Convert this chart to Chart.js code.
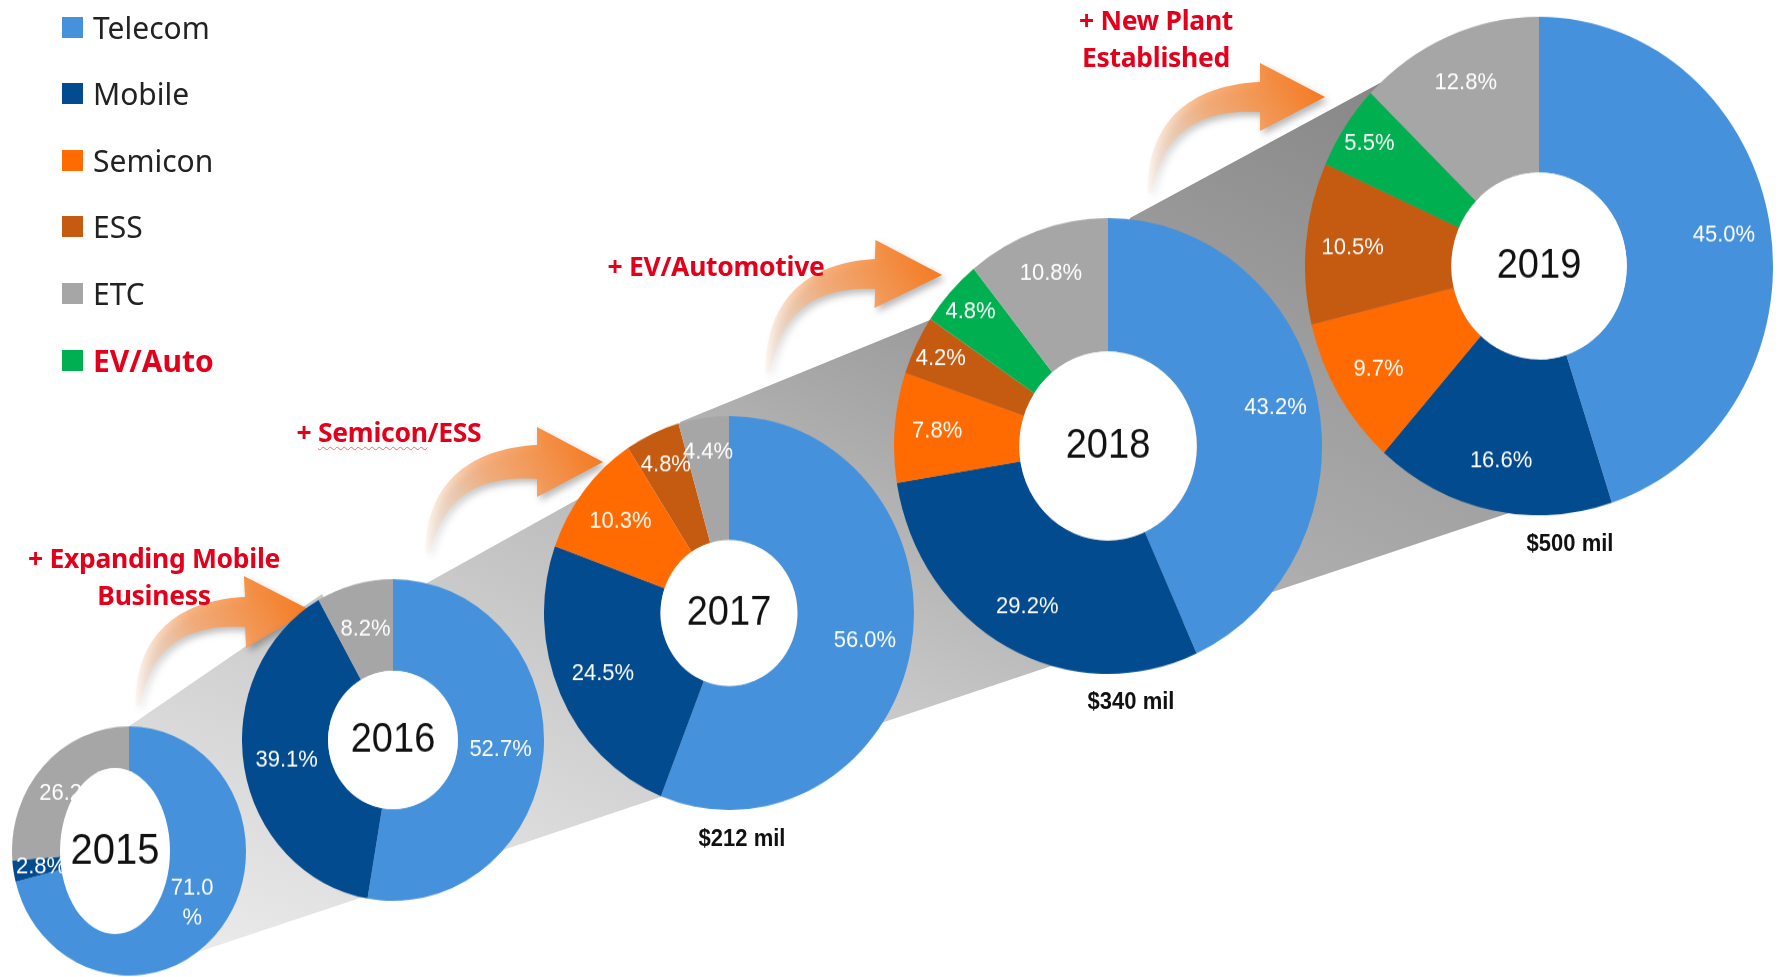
<!DOCTYPE html>
<html>
<head>
<meta charset="utf-8">
<script src="https://cdn.jsdelivr.net/npm/chart.js@4.4.1/dist/chart.umd.min.js"></script>
<style>
html, body { margin: 0; padding: 0; background: #fff; }
#stage { position: relative; width: 1787px; height: 977px; overflow: hidden; font-family: "Liberation Sans", Arial, sans-serif; }
#bg { position: absolute; left: 0; top: 0; }
.ring { position: absolute; transform-origin: 50% 50%; }
.note { position: absolute; transform: translate(-50%, -50%); color: #e3001b; font: 700 26.5px "Noto Sans", sans-serif; text-align: center; line-height: 37px; white-space: nowrap; letter-spacing: -0.3px; }
.note .sq { text-decoration: underline wavy #f06a7a; text-decoration-thickness: 1px; text-underline-offset: 4px; }
.amount { position: absolute; transform: translate(-50%, -50%) scaleY(1.065); font: 700 22px "Liberation Sans", Arial, sans-serif; color: #111; white-space: nowrap; }
.leg { position: absolute; left: 62px; height: 30px; display: flex; align-items: center; font: 30px "Noto Sans", sans-serif; color: #222; white-space: nowrap; }
.leg i { display: inline-block; width: 21px; height: 21px; margin-right: 10px; }
.leg.hot { color: #e3001b; font-weight: 700; }
</style>
</head>
<body>
<div id="stage"><canvas id="bg" width="1787" height="977"></canvas></div>
<script>
// slice order runs clockwise from 12 o'clock
const categories = ['Telecom', 'Mobile', 'Semicon', 'ESS', 'EV/Auto', 'ETC'];
const colors = ['#4591db', '#034b8f', '#ff6b00', '#c55a11', '#00b050', '#a6a6a6'];
const legendOrder = ['Telecom', 'Mobile', 'Semicon', 'ESS', 'ETC', 'EV/Auto'];
const years = ['2015', '2016', '2017', '2018', '2019'];
const share2015 = [71.0, 2.8, 0, 0, 0, 26.2];
const share2016 = [52.7, 39.1, 0, 0, 0, 8.2];
const share2017 = [56.0, 24.5, 10.3, 4.8, 0, 4.4];
const share2018 = [43.2, 29.2, 7.8, 4.2, 4.8, 10.8];
const share2019 = [45.0, 16.6, 9.7, 10.5, 5.5, 12.8];
const revenue = ['', '', '$212 mil', '$340 mil', '$500 mil'];
const milestones = ['+ Expanding Mobile\nBusiness', '+ Semicon/ESS', '+ EV/Automotive', '+ New Plant\nEstablished'];

const shares = [share2015, share2016, share2017, share2018, share2019];

// layout of the picture
const stretch = 1.065;
const rings = [
    { cx: 129, cy: 851, r: 117, cut: '34%', lf: 0.52, hole: { dx: -14, rx: 55, ry: 78 }, yearSize: 40, wrap: [0] },
    { cx: 393, cy: 740, r: 151, cut: '43%', lf: 0.5, yearSize: 38 },
    { cx: 729, cy: 613, r: 185, cut: '37%', lf: 0.6, yearSize: 38 },
    { cx: 1108, cy: 446, r: 214, cut: '41.5%', lf: 0.66, yearSize: 38 },
    { cx: 1539, cy: 266, r: 234, cut: '37.5%', lf: 0.68, yearSize: 38 }
];
const amountPos = [null, null, [742, 839], [1131, 702], [1570, 544]];
const notePos = [[154, 577], [389, 432], [716, 266], [1156, 39]];
const bands = [
    { pts: [[128, 727], [322, 594], [393, 740], [393, 887], [180, 958], [129, 851]], top: '#c9c9c9', bot: '#ececec' },
    { pts: [[427, 583], [580, 498], [729, 613], [729, 774], [393, 887], [393, 740]], top: '#bcbcbc', bot: '#e6e6e6' },
    { pts: [[680, 422], [930, 320], [1108, 446], [1108, 647], [729, 774], [729, 613]], top: '#9b9b9b', bot: '#d8d8d8' },
    { pts: [[1130, 218], [1380, 83], [1539, 266], [1539, 503], [1108, 647], [1108, 446]], top: '#878787', bot: '#b9b9b9' }
];
const arrows = [
    { t: [138, 706], k: [146, 612], b: [245, 612], p: [310, 610], hw: 36, bw: 15, tw: 2 },
    { t: [428, 553], k: [438, 462], b: [537, 462], p: [603, 462], hw: 35, bw: 17, tw: 2 },
    { t: [768, 373], k: [776, 275], b: [875, 274], p: [942, 275], hw: 34, bw: 15, tw: 2 },
    { t: [1150, 193], k: [1158, 97], b: [1260, 97], p: [1325, 97], hw: 34, bw: 15, tw: 2 }
];

const stage = document.getElementById('stage');
const bg = document.getElementById('bg').getContext('2d');

// grey funnel behind the rings
bands.forEach(band => {
    const p = band.pts;
    const g = bg.createLinearGradient(p[1][0], p[1][1], p[4][0], p[4][1]);
    g.addColorStop(0, band.top);
    g.addColorStop(1, band.bot);
    bg.fillStyle = g;
    bg.beginPath();
    bg.moveTo(p[0][0], p[0][1]);
    p.slice(1).forEach(q => bg.lineTo(q[0], q[1]));
    bg.closePath();
    bg.fill();
});

function drawArrow(ctx, a) {
    const N = 40, left = [], right = [];
    for (let i = 0; i <= N; i++) {
        const s = i / N;
        const x = (1 - s) * (1 - s) * a.t[0] + 2 * (1 - s) * s * a.k[0] + s * s * a.b[0];
        const y = (1 - s) * (1 - s) * a.t[1] + 2 * (1 - s) * s * a.k[1] + s * s * a.b[1];
        const dx = 2 * (1 - s) * (a.k[0] - a.t[0]) + 2 * s * (a.b[0] - a.k[0]);
        const dy = 2 * (1 - s) * (a.k[1] - a.t[1]) + 2 * s * (a.b[1] - a.k[1]);
        const len = Math.hypot(dx, dy);
        const nx = -dy / len, ny = dx / len;
        const w = a.tw + (a.bw - a.tw) * Math.pow(s, 0.8);
        left.push([x + nx * w, y + ny * w]);
        right.push([x - nx * w, y - ny * w]);
    }
    const hx = a.p[0] - a.b[0], hy = a.p[1] - a.b[1], hl = Math.hypot(hx, hy);
    const hnx = -hy / hl, hny = hx / hl;
    const g = ctx.createLinearGradient(a.t[0], a.t[1], a.p[0], a.p[1]);
    g.addColorStop(0, 'rgba(252, 220, 196, 0.2)');
    g.addColorStop(0.45, 'rgba(249, 168, 110, 0.85)');
    g.addColorStop(1, '#f47a20');
    ctx.save();
    ctx.shadowColor = 'rgba(0, 0, 0, 0.3)';
    ctx.shadowBlur = 7;
    ctx.shadowOffsetX = 3;
    ctx.shadowOffsetY = 4;
    ctx.fillStyle = g;
    ctx.beginPath();
    ctx.moveTo(left[0][0], left[0][1]);
    left.forEach(q => ctx.lineTo(q[0], q[1]));
    ctx.lineTo(a.b[0] + hnx * a.hw, a.b[1] + hny * a.hw);
    ctx.lineTo(a.p[0], a.p[1]);
    ctx.lineTo(a.b[0] - hnx * a.hw, a.b[1] - hny * a.hw);
    right.slice().reverse().forEach(q => ctx.lineTo(q[0], q[1]));
    ctx.closePath();
    ctx.fill();
    ctx.restore();
}
arrows.forEach(a => drawArrow(bg, a));

// labels, white hole and year inside each ring
const ringPlugin = {
    id: 'ring',
    afterDatasetsDraw(chart, args, opts) {
        const ctx = chart.ctx;
        const arcs = chart.getDatasetMeta(0).data;
        const values = chart.data.datasets[0].data;
        const cx = arcs[0].x, cy = arcs[0].y;
        const rIn = arcs[0].innerRadius, rOut = arcs[0].outerRadius;
        ctx.save();
        ctx.fillStyle = '#fff';
        ctx.font = '22px "Liberation Sans", Arial, sans-serif';
        ctx.textAlign = 'center';
        ctx.textBaseline = 'middle';
        arcs.forEach((arc, i) => {
            const v = values[i];
            if (!v) return;
            const mid = (arc.startAngle + arc.endAngle) / 2;
            const f = v < 6 ? opts.lf + 0.12 : opts.lf;
            const r = rIn + (rOut - rIn) * f;
            const x = cx + Math.cos(mid) * r, y = cy + Math.sin(mid) * r;
            if (opts.wrap && opts.wrap.includes(i)) {
                ctx.fillText(v.toFixed(1), x, y - 14);
                ctx.fillText('%', x, y + 14);
            } else {
                ctx.fillText(v.toFixed(1) + '%', x, y);
            }
        });
        const hole = opts.hole || { dx: 0, rx: rIn, ry: rIn };
        ctx.fillStyle = '#fff';
        ctx.beginPath();
        ctx.ellipse(cx + hole.dx, cy, hole.rx, hole.ry, 0, 0, Math.PI * 2);
        ctx.fill();
        ctx.fillStyle = '#111';
        ctx.font = opts.yearSize + 'px "Liberation Sans", Arial, sans-serif';
        ctx.fillText(opts.year, cx + hole.dx, cy + 1);
        ctx.restore();
    }
};

const charts = [];
rings.forEach((g, i) => {
    const wrapper = document.createElement('div');
    wrapper.className = 'ring';
    wrapper.style.left = (g.cx - g.r) + 'px';
    wrapper.style.top = (g.cy - g.r) + 'px';
    wrapper.style.width = (2 * g.r) + 'px';
    wrapper.style.height = (2 * g.r) + 'px';
    wrapper.style.transform = 'scaleY(' + stretch + ')';
    const canvas = document.createElement('canvas');
    canvas.width = 2 * g.r;
    canvas.height = 2 * g.r;
    wrapper.appendChild(canvas);
    stage.appendChild(wrapper);
    charts.push(new Chart(canvas.getContext('2d'), {
        type: 'doughnut',
        data: {
            labels: categories,
            datasets: [{
                label: years[i],
                data: shares[i],
                backgroundColor: colors,
                borderWidth: 0
            }]
        },
        options: {
            responsive: false,
            animation: false,
            cutout: g.cut,
            layout: { padding: 0 },
            plugins: {
                legend: { display: false },
                tooltip: { enabled: false },
                ring: { year: years[i], lf: g.lf, hole: g.hole, yearSize: g.yearSize, wrap: g.wrap }
            }
        },
        plugins: [ringPlugin]
    }));
});

// revenue under the rings
revenue.forEach((txt, i) => {
    if (!txt) return;
    const d = document.createElement('div');
    d.className = 'amount';
    d.textContent = txt;
    d.style.left = amountPos[i][0] + 'px';
    d.style.top = amountPos[i][1] + 'px';
    stage.appendChild(d);
});

// red milestone notes
milestones.forEach((txt, i) => {
    const d = document.createElement('div');
    d.className = 'note';
    let html = txt.replace('\n', '<br>');
    if (i === 1) html = html.replace('Semicon', '<span class="sq">Semicon</span>');
    d.innerHTML = html;
    d.style.left = notePos[i][0] + 'px';
    d.style.top = notePos[i][1] + 'px';
    stage.appendChild(d);
});

// legend
legendOrder.forEach((name, i) => {
    const d = document.createElement('div');
    d.className = 'leg' + (name === 'EV/Auto' ? ' hot' : '');
    d.style.top = (27 + i * 66.6 - 15) + 'px';
    const sw = document.createElement('i');
    sw.style.background = colors[categories.indexOf(name)];
    d.appendChild(sw);
    d.appendChild(document.createTextNode(name));
    stage.appendChild(d);
});
</script>
</body>
</html>
